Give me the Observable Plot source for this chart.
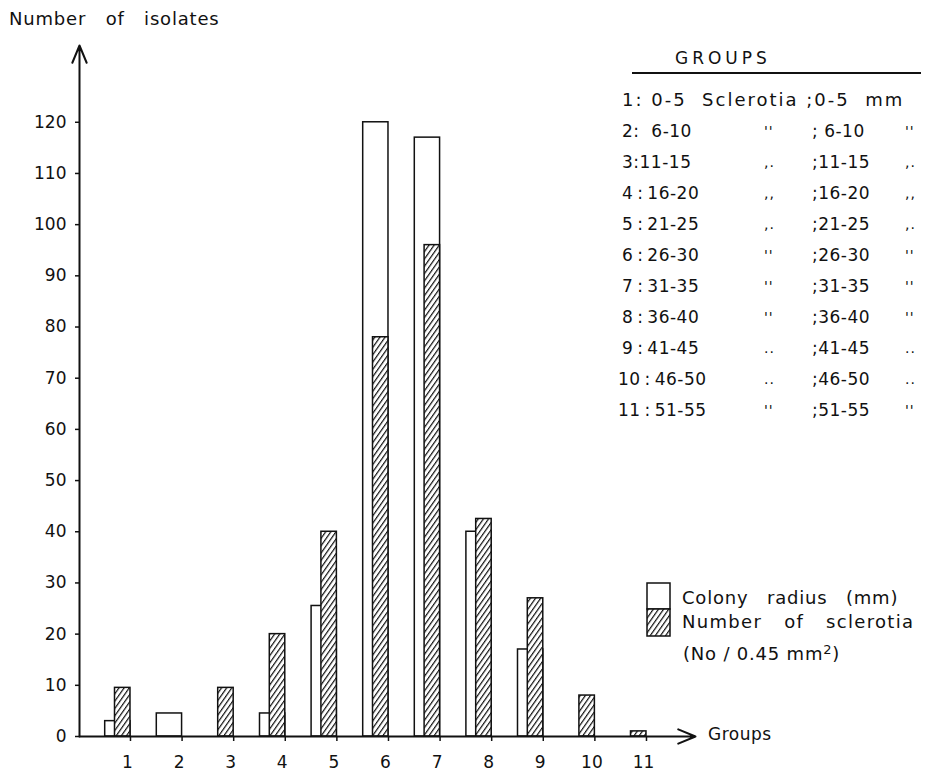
<!DOCTYPE html>
<html><head><meta charset="utf-8">
<script src="https://cdn.jsdelivr.net/npm/d3@7"></script>
<script src="https://cdn.jsdelivr.net/npm/@observablehq/plot@0.6"></script>
<style>
body{margin:0;background:#fff;}
#wrap{position:relative;width:932px;height:776px;font-family:"DejaVu Sans",sans-serif;color:#111;overflow:hidden;}
.t{position:absolute;white-space:pre;line-height:1;}
</style></head><body><div id="wrap"></div>
<script>
// ---- data ----
const groups = [1, 2, 3, 4, 5, 6, 7, 8, 9, 10, 11];
const colonyRadius = [3, 4.5, null, 4.5, 25.5, 120, 117, 40, 17, null, null];
const sclerotiaNumber = [9.5, null, 9.5, 20, 40, 78, 96, 42.5, 27, 8, 1];
const yTicks = [0, 10, 20, 30, 40, 50, 60, 70, 80, 90, 100, 110, 120];
const sclerotiaRanges = ["0-5", "6-10", "11-15", "16-20", "21-25", "26-30", "31-35", "36-40", "41-45", "46-50", "51-55"];
const radiusRanges = ["0-5", "6-10", "11-15", "16-20", "21-25", "26-30", "31-35", "36-40", "41-45", "46-50", "51-55"];
const dittoMarks = ["", "''", ",.", ",,", ",.", "''", "''", "''", "..", "..", "''"];
const yTitle = "Number of isolates";
const xTitle = "Groups";
const tableTitle = "GROUPS";
const legendLabels = ["Colony radius (mm)", "Number of sclerotia", "(No / 0.45 mm", "2", ")"];

const xDomain = [0.012, 11.95];
const yDomain = [0, 135];
const colonyWidth = 0.49, sclerotiaWidth = 0.3;

const data = groups.map((g, i) => ({g, colony: colonyRadius[i], scl: sclerotiaNumber[i]}));
const axisLines = [
  {x1: xDomain[0], y1: 0, x2: xDomain[0], y2: yDomain[1]},
  {x1: xDomain[0], y1: 0, x2: xDomain[1], y2: 0}
];

const plot = Plot.plot({
  width: 932, height: 776,
  marginTop: 45, marginBottom: 40, marginLeft: 79, marginRight: 237,
  style: {fontFamily: '"DejaVu Sans", sans-serif', fontSize: "16px", color: "#111", background: "transparent", overflow: "visible"},
  x: {type: "linear", domain: xDomain},
  y: {domain: yDomain},
  marks: [
    Plot.axisY(yTicks, {tickSize: 4, tickPadding: 9, strokeWidth: 1.5, fontSize: 17, label: null}),
    Plot.axisX(groups, {tickSize: 5, strokeWidth: 1.5, tickFormat: () => "", label: null}),
    Plot.axisX(groups, {tickSize: 0, tickPadding: 19, dx: -3, fontSize: 17, label: null}),
    Plot.rect(data.filter(d => d.colony != null), {
      x1: d => d.g - colonyWidth, x2: "g", y1: () => 0, y2: "colony",
      fill: "white", stroke: "#111", strokeWidth: 1.5
    }),
    Plot.rect(data.filter(d => d.scl != null), {
      x1: d => d.g - sclerotiaWidth, x2: "g", y1: () => 0, y2: "scl",
      fill: "url(#hatch)", stroke: "#111", strokeWidth: 1.5
    }),
    Plot.arrow(axisLines, {x1: "x1", y1: "y1", x2: "x2", y2: "y2", stroke: "#111", strokeWidth: 2, headLength: 14, headAngle: 45})
  ]
});
const ns = "http://www.w3.org/2000/svg";
const hatchDef = id => `<pattern id="${id}" patternUnits="userSpaceOnUse" width="4.2" height="4.2" patternTransform="rotate(35)"><rect width="4.2" height="4.2" fill="white"/><line x1="0.6" y1="0" x2="0.6" y2="4.2" stroke="#111" stroke-width="1.2"/></pattern>`;
const defs = document.createElementNS(ns, "defs");
defs.innerHTML = hatchDef("hatch");
plot.insertBefore(defs, plot.firstChild);
plot.style.position = "absolute"; plot.style.left = "0"; plot.style.top = "0";
const wrap = document.getElementById("wrap");
wrap.appendChild(plot);

function put(text, x, cy, fs, css = "") {
  const s = document.createElement("div");
  s.className = "t";
  s.textContent = text;
  s.style.left = x + "px";
  s.style.top = (cy - 0.48 * fs) + "px";
  s.style.fontSize = fs + "px";
  s.style.cssText += css;
  wrap.appendChild(s);
  return s;
}
// axis titles
put(yTitle, 9, 19, 18, "word-spacing:13px;letter-spacing:0.8px;");
put(xTitle, 708, 734, 17, "letter-spacing:0.5px;");

// group table
put(tableTitle, 675, 58, 17, "letter-spacing:4px;");
const ul = document.createElement("div");
ul.style.cssText = "position:absolute;left:632px;top:72px;width:289px;height:2px;background:#111;";
wrap.appendChild(ul);
const sep = "\u2009:\u2009";
groups.forEach((g, i) => {
  const cy = 100 + 31 * i;
  const x0 = g >= 10 ? 618 : 622;
  if (i === 0) {
    put(`${g}: ${sclerotiaRanges[i]}  Sclerotia ;${radiusRanges[i]}  mm`, x0, cy, 18, "letter-spacing:2px;");
  } else {
    const left = i === 1 ? `${g}:  ${sclerotiaRanges[i]}` : (i === 2 ? `${g}:${sclerotiaRanges[i]}` : `${g}${sep}${sclerotiaRanges[i]}`);
    put(left, x0, cy, 17, "letter-spacing:0.5px;");
    put(dittoMarks[i], 764, cy, 14, "letter-spacing:1px;");
    put(i === 1 ? `; ${radiusRanges[i]}` : `;${radiusRanges[i]}`, 812, cy, 17, "letter-spacing:0.5px;");
    put(dittoMarks[i], 905, cy, 14, "letter-spacing:1px;");
  }
});

// bottom legend
const lg = document.createElement("div");
lg.style.cssText = "position:absolute;left:646px;top:582px;";
lg.innerHTML = `<svg width="26" height="56" xmlns="${ns}"><defs>${hatchDef("hatch2")}</defs><rect x="1" y="1" width="23" height="26" fill="white" stroke="#111" stroke-width="1.5"/><rect x="1" y="27" width="23" height="27" fill="url(#hatch2)" stroke="#111" stroke-width="1.5"/></svg>`;
wrap.appendChild(lg);
put(legendLabels[0], 682, 598, 18, "word-spacing:12px;letter-spacing:0.8px;");
put(legendLabels[1], 682, 622, 18, "word-spacing:15px;letter-spacing:1.3px;");
const l3 = put(legendLabels[2], 683, 652, 18, "letter-spacing:0.8px;");
const sup = document.createElement("sup");
sup.textContent = legendLabels[3];
sup.style.cssText = "font-size:13px;vertical-align:6px;";
l3.appendChild(sup);
l3.appendChild(document.createTextNode(legendLabels[4]));
</script></body></html>
